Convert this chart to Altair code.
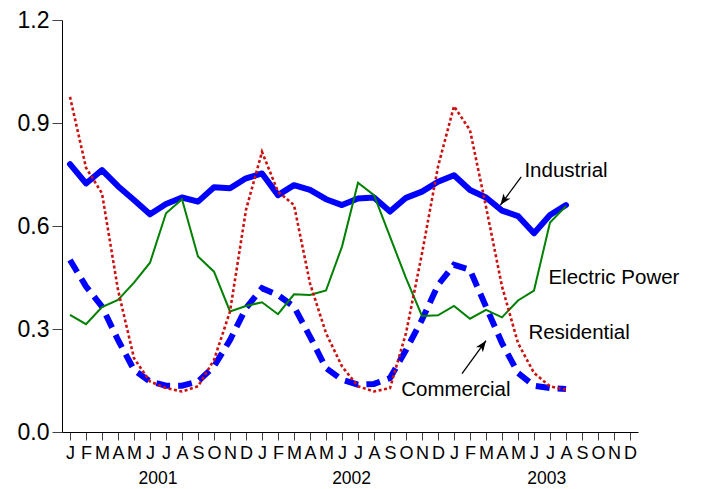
import altair as alt
import pandas as pd

month_letters = ["J", "F", "M", "A", "M", "J", "J", "A", "S", "O", "N", "D"]
years = ["2001", "2002", "2003"]
year_centers = [5.5, 17.6, 29.8]
y_ticks = [0.0, 0.3, 0.6, 0.9, 1.2]

industrial = [0.780, 0.724, 0.763, 0.716, 0.676, 0.634, 0.664, 0.683, 0.671, 0.713, 0.710, 0.739,
              0.753, 0.690, 0.719, 0.705, 0.678, 0.661, 0.680, 0.683, 0.642, 0.682, 0.700, 0.729,
              0.748, 0.705, 0.683, 0.645, 0.629, 0.579, 0.632, 0.661]
electric = [0.341, 0.314, 0.364, 0.385, 0.435, 0.493, 0.637, 0.678, 0.511, 0.467, 0.351, 0.367,
            0.378, 0.343, 0.401, 0.399, 0.412, 0.540, 0.726, 0.690, 0.569, 0.448, 0.338, 0.340,
            0.367, 0.330, 0.356, 0.334, 0.383, 0.412, 0.610, 0.658]
residential = [0.976, 0.770, 0.695, 0.414, 0.215, 0.147, 0.128, 0.118, 0.133, 0.210, 0.351, 0.647,
               0.816, 0.700, 0.661, 0.433, 0.288, 0.191, 0.133, 0.118, 0.128, 0.288, 0.520, 0.773,
               0.949, 0.879, 0.656, 0.424, 0.259, 0.172, 0.133, 0.123]
commercial = [0.501, 0.424, 0.365, 0.268, 0.181, 0.147, 0.135, 0.135, 0.147, 0.191, 0.268, 0.361,
              0.419, 0.399, 0.365, 0.278, 0.186, 0.152, 0.138, 0.140, 0.157, 0.239, 0.327, 0.428,
              0.487, 0.472, 0.365, 0.259, 0.172, 0.135, 0.128, 0.125]

labels = ["Industrial", "Electric Power", "Residential", "Commercial"]
label_x = [28.4, 29.9, 28.65, 20.7]
label_y = [0.76, 0.449, 0.289, 0.123]

arrow_from_x = [28.2, 24.5]
arrow_from_y = [0.743, 0.170]
arrow_to_x = [26.9, 26.0]
arrow_to_y = [0.661, 0.266]
arrow_angle = [216, 36]

FONT = "Liberation Sans"
months = list(range(len(industrial)))

xscale = alt.Scale(domain=[-0.5, 35.5], nice=False, zero=False)
yscale = alt.Scale(domain=[0, 1.2], nice=False, zero=True)

label_expr = "[" + ",".join("'%s'" % m for m in month_letters) + "][datum.value % 12]"

xaxis = alt.Axis(values=list(range(36)), labelExpr=label_expr, labelOverlap=False,
                 labelFlush=False, labelBound=False, grid=False, tickSize=8,
                 labelPadding=4, labelFontSize=18, labelFont=FONT, labelColor="black",
                 domainColor="black", tickColor="#444", title=None)
yaxis = alt.Axis(values=y_ticks, format=".1f", grid=False, tickSize=10, labelPadding=3,
                 labelFontSize=23, labelFont=FONT, labelColor="black",
                 domainColor="black", tickColor="#444", title=None)


def Xq(f):
    return alt.X(f, scale=xscale, axis=xaxis, title=None)


def Yq(f):
    return alt.Y(f, scale=yscale, axis=yaxis, title=None)


def series(vals):
    return pd.DataFrame({"m": months, "v": vals})


comm = alt.Chart(series(commercial)).mark_line(
    color="#0000ff", strokeWidth=6, strokeDash=[14, 8]).encode(x=Xq("m:Q"), y=Yq("v:Q"))
ind = alt.Chart(series(industrial)).mark_line(
    color="#0000ff", strokeWidth=6, strokeJoin="round", strokeCap="round").encode(
    x=Xq("m:Q"), y=Yq("v:Q"))
elec = alt.Chart(series(electric)).mark_line(
    color="#008000", strokeWidth=2).encode(x=Xq("m:Q"), y=Yq("v:Q"))
res = alt.Chart(series(residential)).mark_line(
    color="#cc1111", strokeWidth=2.6, strokeDash=[3, 2.5]).encode(x=Xq("m:Q"), y=Yq("v:Q"))

lab_df = pd.DataFrame({"t": labels, "m": label_x, "v": label_y})
lab = alt.Chart(lab_df).mark_text(align="left", baseline="middle", fontSize=20.5, font=FONT,
                                  color="black").encode(x=Xq("m:Q"), y=Yq("v:Q"), text="t:N")

arr_df = pd.DataFrame({"m": arrow_from_x, "v": arrow_from_y, "m2": arrow_to_x,
                       "v2": arrow_to_y, "a": arrow_angle})
arr_line = alt.Chart(arr_df).mark_rule(color="black", strokeWidth=1.3).encode(
    x=Xq("m:Q"), y=Yq("v:Q"), x2="m2:Q", y2="v2:Q")
arr_head = alt.Chart(arr_df).mark_point(
    shape="M0,0 L0.5,1.3 L0,0.95 L-0.5,1.3 Z", filled=True, color="black", opacity=1,
    size=300).encode(x=Xq("m2:Q"), y=Yq("v2:Q"), angle=alt.Angle("a:Q", scale=None))

yr_df = pd.DataFrame({"t": years, "m": year_centers})
yr = alt.Chart(yr_df).mark_text(baseline="middle", align="center", fontSize=17.5, font=FONT,
                                color="black").encode(x=Xq("m:Q"), y=alt.value(459),
                                                      text="t:N")

chart = alt.layer(comm, ind, elec, res, lab, arr_line, arr_head, yr).properties(
    width=576, height=412,
    autosize=alt.AutoSizeParams(type="none"),
    padding={"left": 54, "top": 12, "right": 55, "bottom": 58},
).configure(background="white").configure_view(stroke=None)

chart.save("out.html", embed_options={"renderer": "svg", "actions": False})
